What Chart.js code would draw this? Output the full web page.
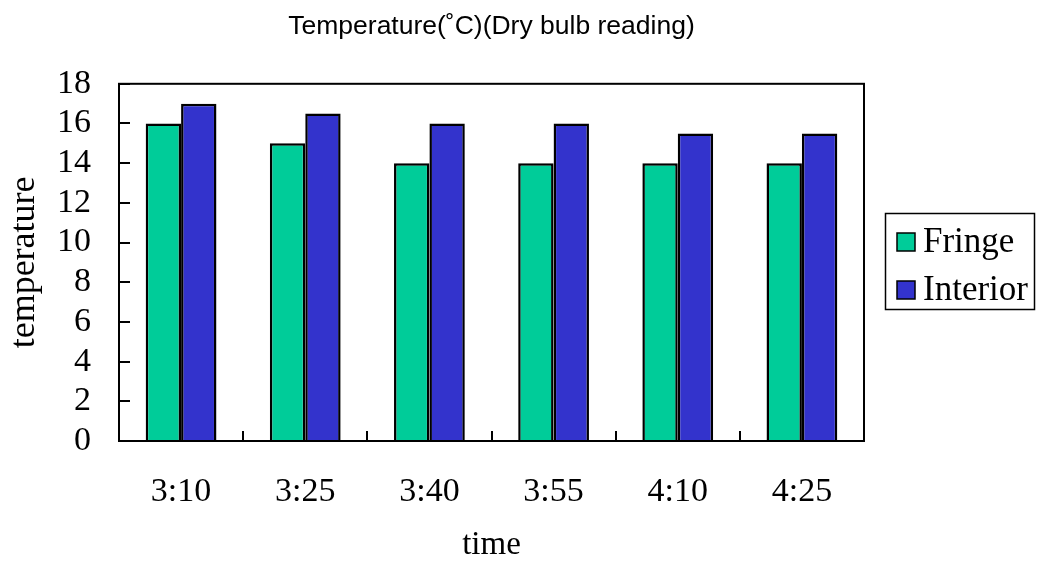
<!DOCTYPE html>
<html>
<head>
<meta charset="utf-8">
<script src="https://cdn.jsdelivr.net/npm/chart.js@4"></script>
<style>
  html, body { margin: 0; padding: 0; background: #fff; }
  #wrap { width: 1037px; height: 562px; }
</style>
</head>
<body>
<div id="wrap"><canvas id="chart" width="1037" height="562"></canvas></div>
<script>
  // data
  const times = ['3:10', '3:25', '3:40', '3:55', '4:10', '4:25'];
  const fringe = [16, 15, 14, 14, 14, 14];
  const interior = [17, 16.5, 16, 16, 15.5, 15.5];
  const seriesNames = ['Fringe', 'Interior'];
  const seriesColors = ['#00CC99', '#3333CC'];

  const serif = '"Liberation Serif", "Times New Roman", serif';
  const sans = '"Liberation Sans", Arial, sans-serif';

  // box round the plot plus the small inward tick marks
  const frame = {
    id: 'frame',
    afterDatasetsDraw(chart) {
      const { ctx, chartArea: a, scales } = chart;
      ctx.save();
      ctx.strokeStyle = '#000';
      ctx.lineWidth = 2;
      ctx.strokeRect(a.left, a.top, a.right - a.left, a.bottom - a.top);
      ctx.beginPath();
      scales.y.ticks.forEach(t => {
        const y = Math.round(scales.y.getPixelForValue(t.value));
        ctx.moveTo(a.left, y);
        ctx.lineTo(a.left + 11, y);
      });
      for (let i = 1; i < times.length; i++) {
        const x = Math.round((scales.x.getPixelForValue(i - 1) + scales.x.getPixelForValue(i)) / 2);
        ctx.moveTo(x, a.bottom);
        ctx.lineTo(x, a.bottom - 10);
      }
      ctx.stroke();
      ctx.restore();
    }
  };

  // boxed legend to the right of the plot
  const boxLegend = {
    id: 'boxLegend',
    afterDraw(chart) {
      const { ctx } = chart;
      ctx.save();
      ctx.strokeStyle = '#000';
      ctx.lineWidth = 1.5;
      ctx.strokeRect(885.5, 213.5, 149, 96);
      ctx.font = '35px ' + serif;
      ctx.textBaseline = 'middle';
      chart.data.datasets.forEach((ds, i) => {
        const y = 242 + i * 48;
        ctx.fillStyle = ds.backgroundColor;
        ctx.fillRect(897, y - 9, 18, 18);
        ctx.lineWidth = 1.5;
        ctx.strokeRect(897, y - 9, 18, 18);
        ctx.fillStyle = '#000';
        ctx.fillText(ds.label, 923, y + 1);
      });
      ctx.restore();
    }
  };

  new Chart(document.getElementById('chart'), {
    type: 'bar',
    data: {
      labels: times,
      datasets: [
        { label: seriesNames[0], data: fringe, backgroundColor: seriesColors[0], borderColor: '#000', borderWidth: 2.5 },
        { label: seriesNames[1], data: interior, backgroundColor: seriesColors[1], borderColor: '#000', borderWidth: 2.5 }
      ]
    },
    options: {
      responsive: false,
      animation: false,
      layout: { padding: { left: 0, right: 173, top: 0, bottom: 0 } },
      datasets: { bar: { categoryPercentage: 0.57, barPercentage: 1.0 } },
      plugins: {
        legend: { display: false },
        tooltip: { enabled: false },
        title: {
          display: true,
          fullSize: false,
          text: 'Temperature(˚C)(Dry bulb reading)',
          color: '#000',
          font: { family: sans, size: 26.5, weight: 'normal', lineHeight: 1.2 },
          padding: { top: 11, bottom: 41 }
        }
      },
      scales: {
        x: {
          grid: { display: false, drawTicks: false },
          border: { display: false },
          ticks: { color: '#000', font: { family: serif, size: 34 }, padding: 31, maxRotation: 0, autoSkip: false },
          title: { display: true, text: 'time', color: '#000', font: { family: serif, size: 33, lineHeight: 1.0 }, padding: { top: 0, bottom: 0 } },
          afterFit(s) { s.height = 121; }
        },
        y: {
          min: 0,
          max: 18,
          grid: { display: false, drawTicks: false },
          border: { display: false },
          ticks: { stepSize: 2, color: '#000', font: { family: serif, size: 34 }, padding: 28, autoSkip: false },
          title: { display: true, text: 'temperature', color: '#000', font: { family: serif, size: 36 }, padding: { top: 3, bottom: 0 } },
          afterFit(s) { s.width = 119; }
        }
      }
    },
    plugins: [frame, boxLegend]
  });
</script>
</body>
</html>
